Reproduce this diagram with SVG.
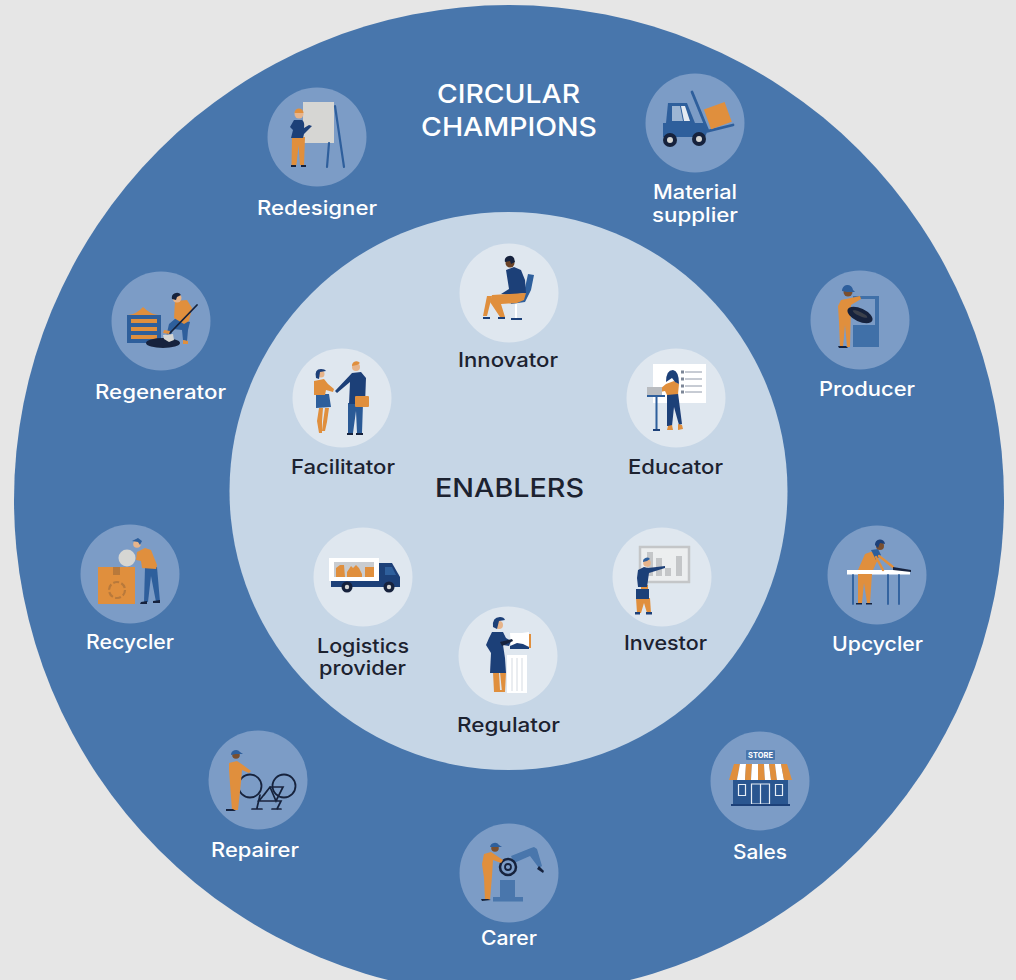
<svg xmlns="http://www.w3.org/2000/svg" width="1016" height="980" viewBox="0 0 1016 980">
<style>
.o{fill:#e08f3e}.n{fill:#1f3f78}.b{fill:#2f5f9c}.k{fill:#17233c}.g{fill:#d6d6d3}.w{fill:#fff}.s{fill:#e7b48a}
.lo{stroke:#e08f3e;fill:none;stroke-linecap:round}.ln{stroke:#1f3f78;fill:none;stroke-linecap:round}.lk{stroke:#17233c;fill:none;stroke-linecap:round}.lb{stroke:#2f5f9c;fill:none;stroke-linecap:round}
.co{fill:#7c9cc6}.ci{fill:#dfe7ef}
text{font-family:"Inter","Open Sans","Liberation Sans",sans-serif;font-weight:500;text-anchor:middle}
.tw{fill:#fff;font-size:20px}.td{fill:#1c2230;font-size:20px}
.h{font-size:26px;fill:#fff}.hd{font-size:25px;fill:#1c2230}
.ic{filter:url(#soft)}
</style>
<defs><filter id="soft" x="-5%" y="-5%" width="110%" height="110%"><feGaussianBlur stdDeviation="0.35"/></filter></defs>
<rect width="1016" height="980" fill="#e6e6e6"/>
<circle cx="509" cy="500" r="495" fill="#4876ac"/>
<circle cx="508.500" cy="491" r="279" fill="#c6d6e6"/>
<g id="title-champions"><text class="h" x="508.500" y="103" textLength="143" lengthAdjust="spacingAndGlyphs">CIRCULAR</text><text class="h" x="509" y="135.500" textLength="176" lengthAdjust="spacingAndGlyphs">CHAMPIONS</text></g>
<g id="title-enablers"><text class="hd" x="509.500" y="497" textLength="149" lengthAdjust="spacingAndGlyphs">ENABLERS</text></g>

<g id="redesigner"><circle class="co" cx="317" cy="137" r="49.500"/><g class="ic">
<rect class="g" x="303" y="102" width="31" height="41"/>
<path class="lb" stroke-width="2.200" d="M329 143L327 167M335 106L344 167"/>
<path class="o" d="M292 137h13l-1 28h-4l-1.500-20-2 20h-5z"/>
<path class="n" d="M294 120h8q3 2 2 8l5-3 3 1-8 8-1 4h-12l2-8-3-3z"/>
<circle class="s" cx="299" cy="114" r="4.500"/><path class="o" d="M294.500 113a4.500 4.500 0 0 1 9 0z"/>
<path class="k" d="M291 165h5v2h-5zM301 165h5v2h-5z"/></g>
<text class="tw" x="317" y="215" textLength="120" lengthAdjust="spacingAndGlyphs">Redesigner</text></g>

<g id="material-supplier"><circle class="co" cx="695" cy="123" r="49.500"/><g class="ic">
<path class="lb" stroke-width="2.800" d="M692 92L708 131L733 125"/>
<rect class="o" x="707" y="105" width="22" height="21" transform="rotate(-20 718 116)"/>
<path class="b" d="M668 103h19l8 20h9l4 7-3 7h-42v-14h3z"/>
<path fill="#9db6d4" d="M672 106h8l3 15h-11z"/><path fill="#e4eaf1" d="M681 106h4l5 15h-6z"/>
<circle class="k" cx="670" cy="140" r="7"/><circle class="g" cx="670" cy="140" r="3"/>
<circle class="k" cx="699" cy="139" r="7"/><circle class="g" cx="699" cy="139" r="3"/></g>
<text class="tw" x="695" y="199" textLength="84" lengthAdjust="spacingAndGlyphs">Material</text><text class="tw" x="695" y="222" textLength="86" lengthAdjust="spacingAndGlyphs">supplier</text></g>

<g id="regenerator"><circle class="co" cx="161" cy="321" r="49.500"/><g class="ic">
<path class="o" d="M128 315q9-1 15-8q7 7 15 8z"/>
<rect class="b" x="127" y="315" width="34" height="28"/>
<rect class="o" x="131" y="319" width="26" height="4"/><rect class="o" x="131" y="327" width="26" height="4"/><rect class="o" x="131" y="335" width="26" height="4"/>
<ellipse class="k" cx="163" cy="343" rx="17" ry="5"/>
<path class="b" d="M176 318l14 4-2 8-1 11-4-1-1-10-9-1-3 9-4-1 3-13z"/>
<path class="o" d="M175 301l12-1 5 8-3 13-5 3-10-6z"/>
<circle class="s" cx="177" cy="298" r="4.500"/><path class="k" d="M172 299a5 5 0 0 1 9-4l-4 2-1 3z"/>
<path class="lk" stroke-width="1.800" d="M197 305L170 333"/>
<path class="g" d="M163 335l10-1 1 6-5 2-5-3z"/><path class="o" d="M164 330l6 1-1 3-6-1zM183 340l5 1v3h-5z"/></g>
<text class="tw" x="160.500" y="399" textLength="131" lengthAdjust="spacingAndGlyphs">Regenerator</text></g>

<g id="producer"><circle class="co" cx="860" cy="320" r="49.500"/><g class="ic">
<path d="M853 296h26v51h-26z" fill="#3f6fa8"/><path fill="#7c9cc6" d="M850 299h25v26h-25z"/>
<path class="o" d="M841 300l5-1 14-3 1 3-10 6-1 42h-3l-2-22-2 22h-3l-1-25-1-16z"/>
<circle fill="#7a4f2f" cx="848" cy="292" r="4.500"/><path class="b" d="M842 291a5.500 5.500 0 0 1 11-1l2 2h-8z"/>
<ellipse class="k" cx="860" cy="315" rx="13.500" ry="6.500" transform="rotate(25 860 315)"/>
<ellipse fill="#3a3f4c" cx="860" cy="314" rx="8" ry="2" transform="rotate(25 860 314)"/>
<path class="k" d="M838 346h8l2 2h-9z"/></g>
<text class="tw" x="867" y="396" textLength="96" lengthAdjust="spacingAndGlyphs">Producer</text></g>

<g id="upcycler"><circle class="co" cx="877" cy="575" r="49.500"/><g class="ic">
<rect class="w" x="847" y="570" width="63" height="4.500"/>
<path class="lb" stroke-width="1.800" d="M853 575V604M888 575V604M899 575V604"/>
<path class="o" d="M858 574h14l-2 29h-3l-3-20-2 20h-4z"/>
<path class="o" d="M858 570l7-16 11-4 3 7-6 13z"/><path class="b" d="M871 550l7-1 3 6-5 5z"/>
<circle fill="#7a4f2f" cx="880" cy="546" r="4"/><path class="n" d="M875 545a5 5 0 0 1 10-1l-5-1-2 5z"/>
<path class="lo" stroke-width="2.400" d="M876 557L883 570M879 556L893 567"/>
<path class="k" d="M893 567l18 3v2l-18-2z"/><path class="k" d="M856 603h6v1.500h-6zM866 603h6v1.500h-6z"/></g>
<text class="tw" x="877.500" y="651" textLength="91" lengthAdjust="spacingAndGlyphs">Upcycler</text></g>

<g id="recycler"><circle class="co" cx="130" cy="574" r="49.500"/><g class="ic">
<rect class="o" x="98" y="567" width="37" height="37"/>
<rect fill="#b8793a" x="113" y="567" width="7" height="8"/>
<circle cx="117" cy="590" r="8" fill="none" stroke="#b8793a" stroke-width="2.200" stroke-dasharray="6 2.400"/>
<circle class="g" cx="127" cy="558" r="8.500"/>
<path class="b" d="M145 567h12l3 35h-4l-5-26-3 26h-4z"/>
<path class="o" d="M137 552l8-4 6 2 6 15-1 4-14-1-1-7-5-1z"/>
<circle class="s" cx="137" cy="544" r="3.800"/><path class="b" d="M132 541l6-3 4 3-2 4-2-3z"/>
<path class="k" d="M141 602l6-1v3h-7zM153 601l7-1v3h-7z"/></g>
<text class="tw" x="130" y="649" textLength="88" lengthAdjust="spacingAndGlyphs">Recycler</text></g>

<g id="repairer"><circle class="co" cx="258" cy="780" r="49.500"/><g class="ic">
<circle cx="250" cy="786" r="11.500" fill="none" stroke="#17233c" stroke-width="1.800"/>
<circle cx="284" cy="786" r="11.500" fill="none" stroke="#17233c" stroke-width="1.800"/>
<path class="lk" stroke-width="1.700" d="M260 795L257 808M252 809H262M258 801H281L277 809M272 809H281M259 801L270 787H283L276 801L270 787M264 795L270 787"/>
<path class="o" d="M229 763l8-2 6 4 8 6-2 2-7-3-1 12-3 28h-6l-2-26-1-14z"/>
<circle fill="#7a4f2f" cx="236" cy="755" r="3.800"/><path class="b" d="M231 755a5 5 0 0 1 9-3l3 2h-7z"/>
<path class="k" d="M226 809h7l3 2h-10z"/></g>
<text class="tw" x="255" y="857" textLength="88" lengthAdjust="spacingAndGlyphs">Repairer</text></g>

<g id="carer"><circle class="co" cx="509" cy="873" r="49.500"/><g class="ic">
<rect x="493" y="897" width="30" height="4.500" fill="#4876ac"/><path fill="#4876ac" d="M500 880h15v17h-15z"/>
<path fill="#4876ac" d="M511 856l20-8 3-1 3 2 5 17-3 2-9-12-16 7z"/>
<path class="k" d="M539 866l5 5-1 2-6-4z"/>
<circle cx="508" cy="867" r="8" fill="#7c9cc6" stroke="#17233c" stroke-width="2.500"/><circle cx="508" cy="867" r="3" fill="none" stroke="#17233c" stroke-width="1.800"/>
<path class="o" d="M484 854l7-2 12 8-2 3-8-3-1 16-2 24h-5l-1-22-2-14z"/>
<circle fill="#7a4f2f" cx="495" cy="848" r="3.800"/><path class="b" d="M490 847a5 5 0 0 1 9-2l3 2h-7z"/>
<path class="k" d="M481 899h7l3 1-9 1z"/></g>
<text class="tw" x="509" y="945" textLength="56" lengthAdjust="spacingAndGlyphs">Carer</text></g>

<g id="sales"><circle class="co" cx="760" cy="781" r="49.500"/><g class="ic">
<rect x="746" y="750" width="29" height="10" rx="1" fill="#4876ac"/>
<rect x="733" y="780" width="55" height="25" fill="#2b5690"/>
<path class="o" d="M734 764h6l-3 16h-8z"/><path class="w" d="M740 764h6l-1 16h-8z"/><path class="o" d="M746 764h6l-1 16h-6z"/><path class="w" d="M752 764h6v16h-7z"/><path class="o" d="M758 764h6l1 16h-7z"/><path class="w" d="M764 764h5l2 16h-6z"/><path class="o" d="M769 764h6l2 16h-6z"/><path class="w" d="M775 764h6l3 16h-7z"/><path class="o" d="M781 764h6l5 16h-8z"/>
<path d="M751.500 784h18v20h-18zM760.500 784v20M738.500 784.500h7v11h-7zM775.500 784.500h7v11h-7z" fill="none" stroke="#e6edf5" stroke-width="1.200"/>
<rect x="731" y="804" width="59" height="2" fill="#1f3f78"/></g>
<text x="760.500" y="758" fill="#fff" style="font-size:8px;font-weight:700" textLength="25" lengthAdjust="spacingAndGlyphs">STORE</text>
<text class="tw" x="760" y="859" textLength="54" lengthAdjust="spacingAndGlyphs">Sales</text></g>

<g id="innovator"><circle class="ci" cx="509" cy="293" r="49.500"/><g class="ic">
<path class="b" d="M528 274l6 1-3 15-6 12-14 2-1-3 13-4z"/>
<path class="n" d="M506 270l8-3 7 3 4 10 1 13-17 2-8-1 8-5z"/>
<circle fill="#6b4327" cx="510" cy="263" r="4.500"/><path class="k" d="M505 262a5 5 0 0 1 9-4l1 4-4 2-1-3z"/>
<path class="o" d="M526 293l-2 7-7 3-16 1 4 13h-5l-10-15 2-7z"/>
<path class="o" d="M492 296l-5 20h-4l4-20z"/>
<path class="w" d="M515 304h2v14h-2z"/>
<path class="n" d="M511 318h11v2h-11zM483 317h7v2h-7zM498 317h7v2h-7z"/></g>
<text class="td" x="508" y="366.500" textLength="100" lengthAdjust="spacingAndGlyphs">Innovator</text></g>

<g id="educator"><circle class="ci" cx="676" cy="398" r="49.500"/><g class="ic">
<rect class="w" x="653" y="364" width="53" height="39"/>
<path d="M685 372h17M685 379h17M685 386h17M685 392h17" stroke="#8f98a8" stroke-width="1"/>
<path d="M681 370.500h3v3h-3zM681 377.500h3v3h-3zM681 384.500h3v3h-3zM681 390.500h3v3h-3z" fill="#7d8798"/>
<path class="n" d="M667 393h11l4 31-3 1-5-18-2 19h-5z"/>
<path class="o" d="M666 384l8-3 5 3-1 10-11 1-2-4-5 1v-3z"/>
<path class="n" d="M666 382q0-12 7-12q6 1 6 14l-4-2-3-4z"/>
<rect x="647" y="387" width="15" height="8" fill="#b9bcc0"/>
<rect class="b" x="647" y="395" width="18" height="2"/><rect class="b" x="655.500" y="396" width="2" height="33"/><rect class="n" x="653" y="429" width="7" height="2"/>
<path class="o" d="M668 426l4-1 1 5h-6zM678 424l4 1 1 4-5 1z"/></g>
<text class="td" x="675.500" y="473.500" textLength="95" lengthAdjust="spacingAndGlyphs">Educator</text></g>

<g id="investor"><circle class="ci" cx="662" cy="577" r="49.500"/><g class="ic">
<rect x="640" y="547" width="49" height="35" fill="#eceeef" stroke="#c4c6c8" stroke-width="2.500"/>
<path fill="#c4c6c8" d="M647 552h6v24h-6zM656 558h6v18h-6zM665 568h6v8h-6zM676 556h6v20h-6z"/>
<path class="o" d="M636 598h14l1 15h-4l-3-10-3 10h-4z"/><path class="o" d="M641 585h7v4h-7z"/>
<path class="n" d="M638 570l6-3 4 1 17-2v2l-16 5-2 14h-9l-1-9z"/>
<rect class="n" x="636" y="589" width="13" height="10"/>
<circle class="s" cx="647" cy="563" r="3.800"/><path class="b" d="M643 562a4 4 0 0 1 7-3l-3 2z"/>
<path class="n" d="M635 612h5v2.500h-5zM646 612h6v2.500h-6z"/></g>
<text class="td" x="665.500" y="650" textLength="83" lengthAdjust="spacingAndGlyphs">Investor</text></g>

<g id="regulator"><circle class="ci" cx="508" cy="656" r="49.500"/><g class="ic">
<rect class="w" x="507" y="655" width="20" height="38"/>
<path d="M512 658v33M517 658v33M522 658v33" stroke="#d5dbe2" stroke-width="1"/>
<path class="w" d="M510 633h12l7-1v14h-18z"/>
<path class="o" d="M529 634h2v14h-2z"/><path class="n" d="M510 646l7-3 6 1 6 3v2h-19z"/>
<path class="o" d="M493 672h6l1 18h4v2h-10zM500 672h6l-1 20h-3z"/>
<path class="n" d="M492 632h11l3 6 5 3-2 5-6-1 2 13 1 15h-16l1-20-5-8 3-7z"/>
<path class="k" d="M500 642l12-3 1 2-11 5z"/>
<circle class="s" cx="499" cy="625" r="4"/><path class="n" d="M493 627q-1-10 7-10 4 0 5 3l-6 1-2 8z"/></g>
<text class="td" x="508.500" y="732" textLength="103" lengthAdjust="spacingAndGlyphs">Regulator</text></g>

<g id="logistics-provider"><circle class="ci" cx="363" cy="577" r="49.500"/><g class="ic">
<rect class="w" x="329" y="558" width="50" height="23"/>
<rect x="334" y="562" width="40" height="15" fill="#c9ccd0"/>
<path class="o" d="M336 568l4-3h4l1 12h-9zM347 572l4-6 2 2 3-3 3 3 3 6v3h-15zM365 567h9v10h-9z"/>
<path class="n" d="M379 563h13l8 14v10h-21z"/><path class="b" d="M385 567h7l4 8h-11z"/>
<rect class="n" x="331" y="581" width="50" height="6"/>
<circle class="k" cx="347" cy="587" r="5.500"/><circle class="g" cx="347" cy="587" r="2.200"/>
<circle class="k" cx="389" cy="587" r="5.500"/><circle class="g" cx="389" cy="587" r="2.200"/></g>
<text class="td" x="363" y="653" textLength="92" lengthAdjust="spacingAndGlyphs">Logistics</text><text class="td" x="362.500" y="675" textLength="87" lengthAdjust="spacingAndGlyphs">provider</text></g>

<g id="facilitator"><circle class="ci" cx="342" cy="398" r="49.500"/><g class="ic">
<path class="o" d="M319 408h4l-1 13 0 12h-3l-2-12zM325 408h4l-2 14-2 9h-3l1-9z"/>
<path class="b" d="M316 394h13l2 13-15 1z"/>
<path class="o" d="M314 381l10-2 4 5 6 5-1 3-7-2-1 5h-11z"/>
<circle class="s" cx="321" cy="374" r="3.500"/><path class="n" d="M316 378q-2-9 5-9 4 0 5 2l-6 1-1 7z"/>
<path fill="#2c5a96" d="M348 403h15l-1 30h-5l-1-22-3 22h-5z"/>
<path class="n" d="M352 373l9-1 5 6-1 26h-16l1-22-13 11-2-2z"/>
<circle class="s" cx="356" cy="367" r="4"/><path class="o" d="M352 366a4.500 4.500 0 0 1 8-3l-3 2z"/>
<rect class="o" x="355" y="396" width="14" height="11" rx="1"/>
<path class="k" d="M347 433h6v2h-6zM356 433h7v2h-7z"/></g>
<text class="td" x="343" y="473.500" textLength="104" lengthAdjust="spacingAndGlyphs">Facilitator</text></g>
</svg>
